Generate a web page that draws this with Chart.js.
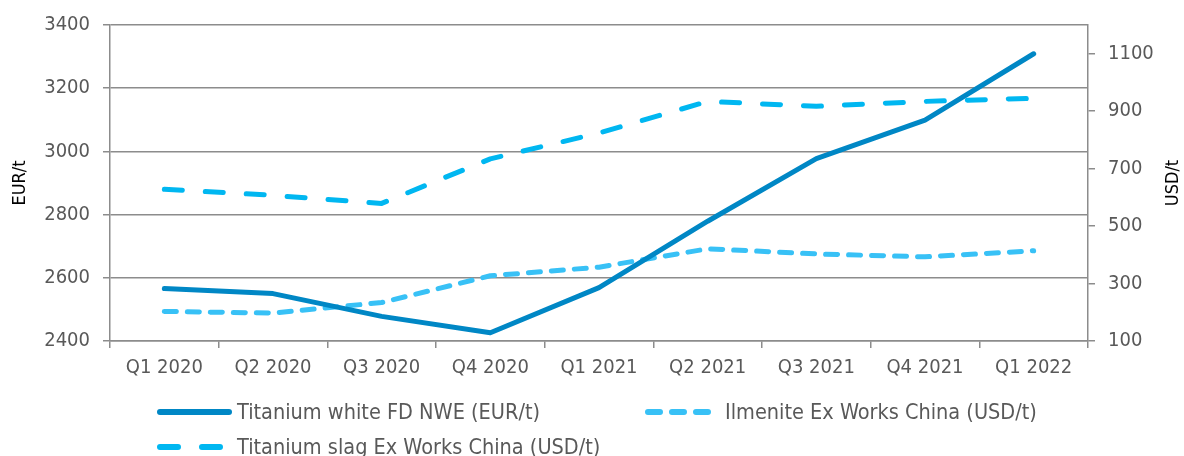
<!DOCTYPE html>
<html>
<head>
<meta charset="utf-8">
<script src="https://cdn.jsdelivr.net/npm/chart.js@4/dist/chart.umd.min.js"></script>
<style>
  html, body { margin: 0; padding: 0; background: #fff; }
  #wrap { width: 1184px; height: 456px; position: relative; }
</style>
</head>
<body>
<div id="wrap"><canvas id="priceChart"></canvas></div>
<script>
/* ── DATA ── */
const quarters      = ['Q1 2020','Q2 2020','Q3 2020','Q4 2020','Q1 2021','Q2 2021','Q3 2021','Q4 2021','Q1 2022'];
const titaniumWhite = [2566, 2550, 2478, 2426, 2569, 2779, 2977, 3099, 3309];   // EUR/t
const ilmenite      = [203, 197, 234, 327, 357, 421, 403, 393, 414];           // USD/t
const titaniumSlag  = [628, 607, 579, 734, 824, 934, 917, 934, 945];           // USD/t
const eurTicks      = [2400, 2600, 2800, 3000, 3200, 3400];
const usdTicks      = [100, 300, 500, 700, 900, 1100];

const FONT  = "'DejaVu Sans Condensed', 'DejaVu Sans', sans-serif";
const GRID  = '#8c8c8c';
const LABEL = '#595959';

/* ── legend + axis titles, drawn by hand ── */
const extras = {
  id: 'extras',
  afterDraw(chart) {
    const ctx = chart.ctx, ca = chart.chartArea;
    ctx.save();
    // axis titles (both read bottom-to-top)
    ctx.fillStyle = '#000';
    ctx.font = `18px ${FONT}`;
    ctx.textAlign = 'center'; ctx.textBaseline = 'middle';
    const midY = (ca.top + ca.bottom) / 2;
    [[20, 'EUR/t'], [1173, 'USD/t']].forEach(([x, t]) => {
      ctx.save(); ctx.translate(x, midY); ctx.rotate(-Math.PI / 2);
      ctx.fillText(t, 0, 0); ctx.restore();
    });
    // legend
    const slots = [[157, 412], [645, 412], [157, 447]];
    chart.data.datasets.forEach((ds, i) => {
      const [x, y] = slots[i];
      ctx.strokeStyle = ds.borderColor;
      ctx.lineWidth = 6;
      ctx.lineCap = 'round';
      ctx.setLineDash(ds.legendDash || []);
      ctx.beginPath(); ctx.moveTo(x + 3, y); ctx.lineTo(x + 72, y); ctx.stroke();
      ctx.setLineDash([]);
      ctx.fillStyle = LABEL;
      ctx.font = `21.5px ${FONT}`;
      ctx.textAlign = 'left';
      ctx.fillText(ds.label, x + 80, y + 1);
    });
    ctx.restore();
  }
};

const tickFont = { family: FONT, size: 20 };

new Chart(document.getElementById('priceChart').getContext('2d'), {
  type: 'line',
  data: {
    labels: quarters,
    datasets: [
      { label: 'Titanium white FD NWE (EUR/t)', data: titaniumWhite, yAxisID: 'y',
        borderColor: '#0087c5', borderWidth: 5, pointRadius: 0, tension: 0,
        borderCapStyle: 'round', borderJoinStyle: 'round' },
      { label: 'Ilmenite Ex Works China (USD/t)', data: ilmenite, yAxisID: 'y1',
        borderColor: '#38c1f6', borderWidth: 5, pointRadius: 0, tension: 0,
        borderDash: [12, 11], borderCapStyle: 'round', borderJoinStyle: 'round',
        legendDash: [12, 12] },
      { label: 'Titanium slag Ex Works China (USD/t)', data: titaniumSlag, yAxisID: 'y1',
        borderColor: '#00b7f1', borderWidth: 5, pointRadius: 0, tension: 0,
        borderDash: [18, 23], borderCapStyle: 'round', borderJoinStyle: 'round',
        legendDash: [18, 24] }
    ]
  },
  options: {
    responsive: true, maintainAspectRatio: false, animation: false, devicePixelRatio: 1,
    layout: { padding: { top: 20, bottom: 75, left: 0, right: 0 } },
    plugins: { legend: { display: false }, tooltip: { enabled: false } },
    scales: {
      x: {
        offset: true,
        grid: { drawOnChartArea: false, drawTicks: true, tickLength: 7, color: GRID, lineWidth: 1.5, offset: true },
        border: { color: GRID, width: 1.5 },
        ticks: { color: LABEL, font: tickFont, padding: 8, maxRotation: 0 },
        afterFit: s => { s.height = 40; }
      },
      y: {
        position: 'left', min: 2400, max: 3400,
        afterBuildTicks: s => { s.ticks = eurTicks.map(v => ({ value: v })); },
        grid: { color: GRID, lineWidth: 1.5, tickLength: 7 },
        border: { color: GRID, width: 1.5 },
        ticks: { color: LABEL, font: tickFont, padding: 13, callback: v => String(v) },
        afterFit: s => { s.width = 110; }
      },
      y1: {
        position: 'right', min: 100, max: 1200,
        afterBuildTicks: s => { s.ticks = usdTicks.map(v => ({ value: v })); },
        grid: { drawOnChartArea: false, color: GRID, lineWidth: 1.5, tickLength: 7 },
        border: { color: GRID, width: 1.5 },
        ticks: { color: LABEL, font: tickFont, padding: 13, callback: v => String(v) },
        afterFit: s => { s.width = 96; }
      }
    }
  },
  plugins: [extras]
});
</script>
</body>
</html>
